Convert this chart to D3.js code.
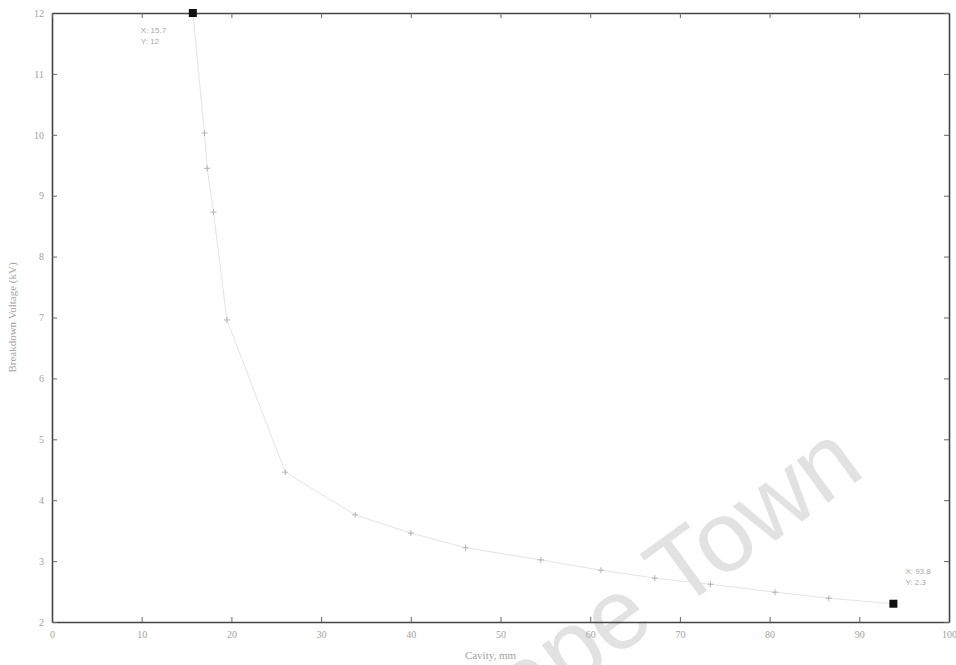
<!DOCTYPE html>
<html>
<head>
<meta charset="utf-8">
<script src="https://cdn.jsdelivr.net/npm/d3@7"></script>
<style>
  html, body { margin: 0; padding: 0; background: #fff; }
  svg { display: block; font-family: "Liberation Sans", Arial, sans-serif; }
</style>
</head>
<body>
<svg id="chart" width="956" height="665"></svg>
<script>
// Measured series: breakdown voltage against cavity size
const cavity  = [15.7, 17.0, 17.3, 18.0, 19.5, 26.0, 33.8, 40.0, 46.1, 54.5, 61.2, 67.2, 73.4, 80.6, 86.6, 93.8];
const voltage = [12.0, 10.03, 9.45, 8.73, 6.96, 4.46, 3.76, 3.46, 3.22, 3.02, 2.85, 2.72, 2.62, 2.49, 2.39, 2.30];

// Axis ticks
const xTicks = [0, 10, 20, 30, 40, 50, 60, 70, 80, 90, 100];
const yTicks = [2, 3, 4, 5, 6, 7, 8, 9, 10, 11, 12];

// Points carrying a data tip (first and last)
const tipIndex = [0, 15];

const xLabel = "Cavity, mm";
const yLabel = "Breakdown Voltage (kV)";
const mark = "Cape Town";

const svg = d3.select("#chart");
const plotLeft = 52, plotRight = 949, plotTop = 13, plotBottom = 622;

const x = d3.scaleLinear().domain([0, 100]).range([plotLeft, plotRight]);
const y = d3.scaleLinear().domain([2, 12]).range([plotBottom, plotTop]);

// Watermark behind the axes
svg.append("text")
  .attr("transform", "translate(464,767) rotate(-36)")
  .attr("font-size", 100)
  .attr("font-family", "Liberation Sans, Arial, sans-serif")
  .attr("fill", "#e2e2e2")
  .text(mark);

const tickColor = "#a2a2a2";
const frameColor = "#444";

// Bottom and left axes with inward ticks
const gx = svg.append("g").attr("transform", `translate(0,${plotBottom})`)
  .call(d3.axisBottom(x).tickValues(xTicks).tickSizeInner(-5).tickSizeOuter(0).tickPadding(9));
const gy = svg.append("g").attr("transform", `translate(${plotLeft},0)`)
  .call(d3.axisLeft(y).tickValues(yTicks).tickSizeInner(-5).tickSizeOuter(0).tickPadding(8));
// Top and right mirror ticks
const gxt = svg.append("g").attr("transform", `translate(0,${plotTop})`)
  .call(d3.axisTop(x).tickValues(xTicks).tickSizeInner(-5).tickSizeOuter(0).tickFormat(""));
const gyr = svg.append("g").attr("transform", `translate(${plotRight},0)`)
  .call(d3.axisRight(y).tickValues(yTicks).tickSizeInner(-5).tickSizeOuter(0).tickFormat(""));

[gx, gy, gxt, gyr].forEach(g => {
  g.select(".domain").attr("stroke", frameColor).attr("stroke-width", 1.6);
  g.selectAll(".tick line").attr("stroke", "#666").attr("stroke-width", 1);
  g.selectAll(".tick text").attr("fill", tickColor).attr("font-size", 10)
    .attr("font-family", "Liberation Serif, serif");
});

// Axis titles
svg.append("text")
  .attr("x", (plotLeft + plotRight) / 2 - 10).attr("y", 659)
  .attr("text-anchor", "middle").attr("font-size", 11).attr("fill", tickColor)
  .attr("font-family", "Liberation Serif, serif")
  .text(xLabel);
svg.append("text")
  .attr("transform", `translate(16,${(plotTop + plotBottom) / 2}) rotate(-90)`)
  .attr("text-anchor", "middle").attr("font-size", 11).attr("fill", tickColor)
  .attr("font-family", "Liberation Serif, serif")
  .text(yLabel);

// Curve with plus markers, printed faint
const pts = cavity.map((c, i) => [c, voltage[i]]);
svg.append("path")
  .datum(pts)
  .attr("fill", "none")
  .attr("stroke", "#e4e4e4")
  .attr("stroke-width", 1)
  .attr("d", d3.line().x(d => x(d[0])).y(d => y(d[1])));

svg.append("g").selectAll("path")
  .data(pts)
  .join("path")
  .attr("transform", d => `translate(${x(d[0])},${y(d[1])})`)
  .attr("d", "M-3,0H3M0,-3V3")
  .attr("stroke", "#b2b2b2")
  .attr("stroke-width", 1);

// Data tips
const fmt = v => String(+v.toFixed(2));
tipIndex.forEach((i, k) => {
  const px = x(cavity[i]), py = y(voltage[i]);
  svg.append("rect")
    .attr("x", px - 4).attr("y", py - 4).attr("width", 8).attr("height", 8)
    .attr("fill", "#111");
  const tx = k === 0 ? px - 52 : px + 12;
  const ty = k === 0 ? py + 20 : py - 30;
  const t = svg.append("text")
    .attr("x", tx).attr("y", ty)
    .attr("font-size", 8).attr("fill", "#a8a8a8")
    .attr("font-family", "Liberation Sans, Arial, sans-serif");
  t.append("tspan").attr("x", tx).attr("dy", 0).text("X: " + fmt(cavity[i]));
  t.append("tspan").attr("x", tx).attr("dy", 11).text("Y: " + fmt(voltage[i]));
});
</script>
</body>
</html>
